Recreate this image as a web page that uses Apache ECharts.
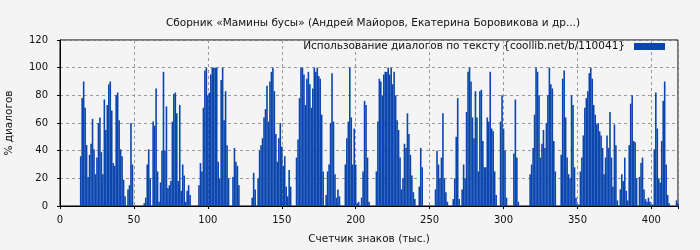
<!DOCTYPE html>
<html>
<head>
<meta charset="utf-8">
<script src="https://cdn.jsdelivr.net/npm/echarts@6/dist/echarts.min.js"></script>
<style>
  html, body { margin: 0; padding: 0; background: #f4f4f4; }
  #chart { width: 700px; height: 250px; }
</style>
</head>
<body>
<div id="chart"></div>
<script>
// share of dialogue (%) per thousand characters, first value is at 14k
var firstK = 14;
var dialogShare = [
  36, 78, 90, 71, 44, 21, 37, 45, 63, 41, 23, 35, 60, 64, 39, 23, 77, 55, 73, 88,
  90, 69, 31, 29, 80, 82, 62, 41, 36, 19, 7, 0, 12, 15, 60, 30, 0, 0, 0, 0,
  0, 0, 0, 2, 6, 30, 41, 20, 0, 61, 58, 85, 25, 3, 17, 40, 97, 40, 72, 13,
  15, 18, 61, 81, 82, 67, 18, 73, 11, 30, 22, 3, 11, 15, 8, 0, 0, 0, 0, 0,
  15, 31, 25, 71, 98, 100, 80, 82, 95, 100, 100, 100, 100, 32, 20, 91, 100, 62, 83, 44,
  20, 0, 0, 21, 42, 32, 29, 15, 0, 0, 0, 0, 0, 0, 0, 0, 6, 24, 12, 0,
  20, 40, 44, 49, 64, 70, 87, 61, 90, 97, 100, 83, 52, 32, 49, 60, 43, 29, 36, 14,
  7, 26, 14, 0, 0, 0, 35, 48, 78, 100, 100, 95, 73, 92, 97, 88, 71, 85, 100, 97,
  100, 94, 92, 66, 25, 0, 8, 25, 30, 60, 96, 61, 23, 6, 12, 7, 0, 0, 0, 30,
  49, 61, 100, 64, 30, 56, 30, 2, 3, 0, 6, 25, 76, 73, 35, 3, 0, 0, 0, 0,
  25, 61, 92, 90, 80, 95, 97, 97, 100, 95, 100, 88, 97, 80, 62, 55, 35, 12, 20, 45,
  42, 67, 52, 37, 22, 10, 5, 0, 0, 14, 42, 28, 0, 0, 0, 0, 0, 0, 0, 0,
  12, 40, 30, 20, 35, 67, 20, 10, 3, 0, 0, 0, 5, 20, 50, 78, 5, 0, 12, 30,
  20, 68, 97, 100, 90, 64, 49, 83, 64, 25, 83, 84, 47, 28, 28, 64, 61, 97, 56, 54,
  25, 8, 0, 0, 61, 80, 56, 40, 6, 0, 0, 0, 0, 38, 77, 35, 3, 0, 0, 0,
  0, 0, 0, 0, 23, 30, 42, 66, 100, 97, 80, 35, 45, 55, 42, 60, 80, 100, 88, 85,
  47, 25, 0, 0, 0, 37, 92, 98, 64, 35, 23, 20, 80, 73, 28, 6, 1, 1, 25, 35,
  51, 71, 78, 83, 96, 100, 92, 73, 66, 59, 60, 54, 51, 42, 23, 35, 51, 42, 68, 35,
  14, 59, 44, 4, 0, 12, 23, 18, 35, 11, 4, 44, 74, 80, 47, 46, 20, 0, 21, 31,
  35, 12, 5, 3, 6, 3, 1, 1, 41, 82, 56, 20, 17, 47, 76, 90, 30, 8, 2, 0,
  0, 0, 0, 4, 2
];
var xTicks = [0, 50, 100, 150, 200, 250, 300, 350, 400];
var yTicks = [0, 20, 40, 60, 80, 100, 120];

var seriesName = 'Использование диалогов по тексту {coollib.net/b/110041}';
var points = dialogShare.map(function (v, idx) { return [firstK + idx, v]; });

var font = 'DejaVu Sans';
var myChart = echarts.init(document.getElementById('chart'));
var option = {
    animation: false,
    backgroundColor: '#f4f4f4',
    textStyle: { fontFamily: font },
    title: {
        text: 'Сборник «Мамины бусы» (Андрей Майоров, Екатерина Боровикова и др...)',
        left: 368,
        textAlign: 'center',
        top: 13,
        textStyle: { fontFamily: font, fontSize: 10.5, fontWeight: 'normal', color: '#111' }
    },
    legend: {
        right: 30,
        top: 36,
        align: 'right',
        itemWidth: 31,
        itemHeight: 7,
        textStyle: { fontFamily: font, fontSize: 10.5, color: '#111', padding: [0, 4, 0, 0] },
        data: [{ name: seriesName, icon: 'rect' }]
    },
    grid: {
        left: 60, right: 22, top: 40, bottom: 44,
        outerBoundsMode: 'none',
        show: true,
        borderColor: '#000',
        borderWidth: 1,
        backgroundColor: 'transparent'
    },
    xAxis: {
        type: 'value',
        min: 0,
        max: 418,
        interval: 50,
        name: 'Счетчик знаков (тыс.)',
        nameLocation: 'middle',
        nameGap: 28,
        nameTextStyle: { fontFamily: font, fontSize: 10.5, color: '#111' },
        axisLine: { lineStyle: { color: '#000' } },
        axisTick: { length: 3, lineStyle: { color: '#000' } },
        axisLabel: {
            fontFamily: font, fontSize: 10, color: '#111', margin: 9,
            formatter: function (v) { return xTicks.indexOf(v) >= 0 ? String(v) : ''; }
        },
        splitLine: { show: true, lineStyle: { color: '#999', type: [3, 3] } }
    },
    yAxis: {
        type: 'value',
        min: 0,
        max: 120,
        interval: 20,
        name: '% диалогов',
        nameLocation: 'middle',
        nameGap: 45,
        nameTextStyle: { fontFamily: font, fontSize: 10.5, color: '#111' },
        axisLine: { show: true, lineStyle: { color: '#000' } },
        axisTick: { show: true, length: 3, lineStyle: { color: '#000' } },
        axisLabel: {
            fontFamily: font, fontSize: 10, color: '#111', margin: 12,
            formatter: function (v) { return yTicks.indexOf(v) >= 0 ? String(v) : ''; }
        },
        splitLine: { show: true, lineStyle: { color: '#999', type: [3, 3] } }
    },
    series: [
        {
            name: seriesName,
            type: 'bar',
            barWidth: 1.6,
            itemStyle: { color: '#0a46ad' },
            data: points
        }
    ]
};
myChart.setOption(option);
</script>
</body>
</html>
